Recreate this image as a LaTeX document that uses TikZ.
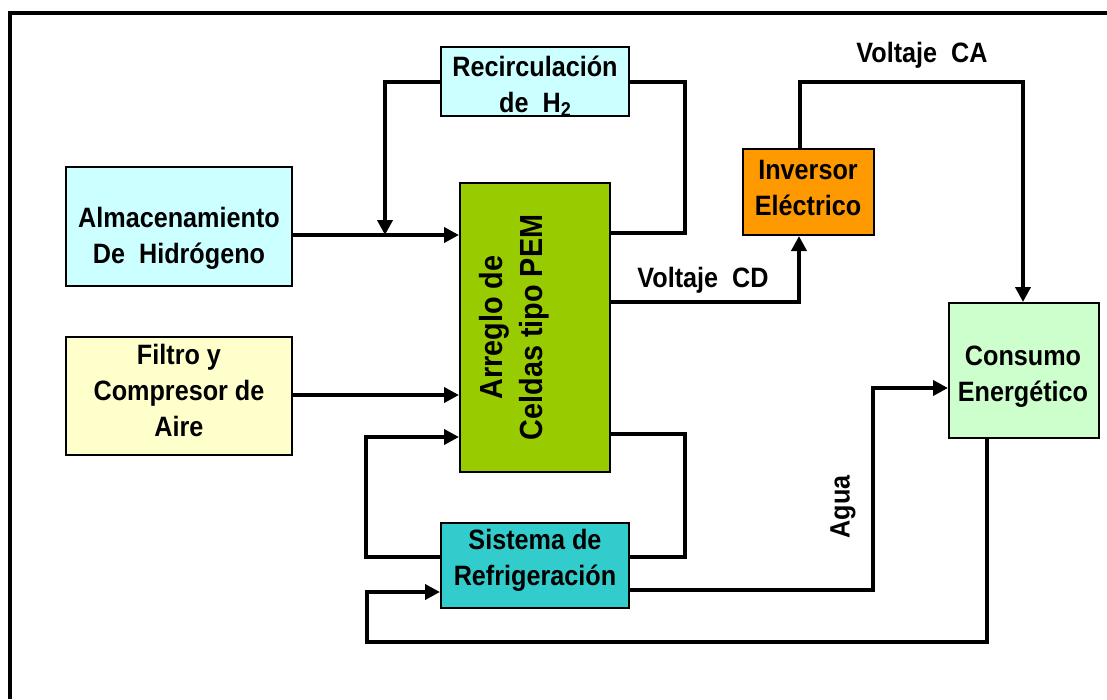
\documentclass[tikz,border=0pt]{standalone}
\usepackage{fontspec}
\setmainfont[FakeStretch=0.9]{Liberation Sans}
\usetikzlibrary{arrows.meta}
\definecolor{cyanl}{HTML}{CCFFFF}
\definecolor{yell}{HTML}{FFFFCC}
\definecolor{pemg}{HTML}{99CC00}
\definecolor{orng}{HTML}{FF9900}
\definecolor{greenl}{HTML}{CCFFCC}
\definecolor{teal2}{HTML}{33CCCC}
\begin{document}
\begin{tikzpicture}[x=1pt,y=-1pt,
  ln/.style={line width=4pt, line join=miter},
  arr/.style={ln, -{Triangle[length=15pt,width=15pt]}},
  box/.style={draw=black, line width=2pt, inner sep=0pt},
  txt/.style={align=center, inner sep=0pt, font=\fontsize{28}{36}\selectfont\bfseries},
  pemtxt/.style={align=center, inner sep=0pt, font=\fontsize{32}{40}\selectfont\bfseries},
]
\useasboundingbox (0,0) rectangle (1107,699);
\draw[line width=4pt] (10,699) -- (10,13) -- (1107,13);

% boxes
\node[box, fill=cyanl, minimum width=226, minimum height=119] (alm) at (179,226.5) {};
\node[box, fill=yell, minimum width=226, minimum height=118] (fil) at (179,396) {};
\node[box, fill=pemg, minimum width=150, minimum height=289] (pem) at (535,327.5) {};
\node[box, fill=cyanl, minimum width=188, minimum height=69] (rec) at (535,81.5) {};
\node[box, fill=orng, minimum width=131, minimum height=86] (inv) at (808.5,192) {};
\node[box, fill=greenl, minimum width=150, minimum height=135] (con) at (1024,370.5) {};
\node[box, fill=teal2, minimum width=188, minimum height=85] (ref) at (535,565.5) {};

% texts
\node[txt] (almt) at (179,238) {Almacenamiento\\De~~Hidrógeno};
\node[txt] (filt) at (179,390) {Filtro y\\Compresor de\\Aire};
\node[pemtxt, rotate=90] (pemt) at (514,327.5) {Arreglo de\\Celdas tipo PEM};
\node[txt] (rect) at (535,86) {Recirculación\\de~~H{\fontsize{20}{20}\selectfont\raisebox{-4pt}{2}}};
\node[txt] (invt) at (808,188) {Inversor\\Eléctrico};
\node[txt] (cont) at (1023,377) {Consumo\\Energético};
\node[txt] (reft) at (535,560) {Sistema de\\Refrigeración};
\node[txt] (vcd) at (703,280) {Voltaje~~CD};
\node[txt] (vca) at (922,55) {Voltaje~~CA};
\node[txt, rotate=90] (agua) at (843,507) {Agua};

% waypoints
\coordinate (j1) at (385,235);
\coordinate (r1) at (385,82);
\coordinate (r2) at (685,82);
\coordinate (r3) at (685,233);
\coordinate (c1) at (799,302);
\coordinate (ca1) at (800,82);
\coordinate (ca2) at (1023,82);
\coordinate (k1) at (366,557);
\coordinate (k2) at (366,437);
\coordinate (k3) at (685,434);
\coordinate (k4) at (685,557);
\coordinate (a1) at (873,590);
\coordinate (a2) at (873,388);
\coordinate (b1) at (987,642);
\coordinate (b2) at (367,642);
\coordinate (b3) at (367,592);

% connectors
\draw[arr] (alm.east |- j1) -- (pem.west |- j1);
\draw[arr] (fil.east |- 0,395) -- (pem.west |- 0,395);
\draw[arr] (rec.west |- r1) -- (r1) -- (j1);
\draw[ln] (rec.east |- r2) -- (r2) -- (r3) -- (pem.east |- r3);
\draw[arr] (pem.east |- c1) -- (c1) -- (c1 |- inv.south);
\draw[arr] (inv.north -| ca1) -- (ca1) -- (ca2) -- (ca2 |- con.north);
\draw[arr] (ref.west |- k1) -- (k1) -- (k2) -- (pem.west |- k2);
\draw[ln] (pem.east |- k3) -- (k3) -- (k4) -- (ref.east |- k4);
\draw[arr] (ref.east |- a1) -- (a1) -- (a2) -- (con.west |- a2);
\draw[arr] (b1 |- con.south) -- (b1) -- (b2) -- (b3) -- (ref.west |- b3);
\end{tikzpicture}
\end{document}
